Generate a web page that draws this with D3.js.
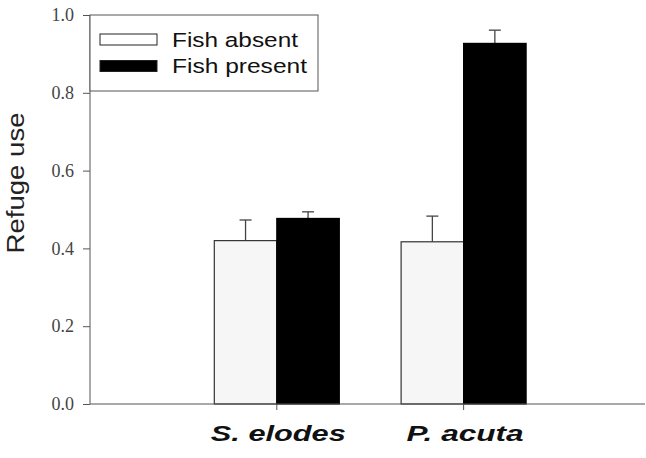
<!DOCTYPE html>
<html><head><meta charset="utf-8">
<script src="https://cdn.jsdelivr.net/npm/d3@7"></script>
<style>body{margin:0;background:#fff}</style>
</head><body>
<svg id="c" width="646" height="458"></svg>
<script>
const categories = ["S. elodes", "P. acuta"];
const seriesNames = ["Fish absent", "Fish present"];
const absentMean = [0.42, 0.417];
const absentSE = [0.053, 0.066];
const presentMean = [0.477, 0.927];
const presentSE = [0.017, 0.034];
const yTicks = [0.0, 0.2, 0.4, 0.6, 0.8, 1.0];

const svg = d3.select("#c");
const y = d3.scaleLinear().domain([0, 1]).range([404, 15]);
const x = d3.scaleLinear().domain([0, 2.88]).range([90, 628]);
const barW = 62.5;
const axisColor = "#555";
const sans = "Liberation Sans, Arial, sans-serif";

// bars
const data = [];
categories.forEach((c, i) => {
  data.push({cat: i + 1, side: -1, v: absentMean[i], se: absentSE[i], fill: "#f6f6f6"});
  data.push({cat: i + 1, side: 1, v: presentMean[i], se: presentSE[i], fill: "#000"});
});
const g = svg.append("g");
data.forEach(d => {
  const x0 = d.side < 0 ? x(d.cat) - barW : x(d.cat);
  const cx = x0 + barW / 2;
  g.append("line").attr("x1", cx).attr("x2", cx).attr("y1", y(d.v)).attr("y2", y(d.v + d.se))
    .attr("stroke", "#444").attr("stroke-width", 1.3);
  g.append("line").attr("x1", cx - 6).attr("x2", cx + 6).attr("y1", y(d.v + d.se)).attr("y2", y(d.v + d.se))
    .attr("stroke", "#444").attr("stroke-width", 1.3);
  g.append("rect").attr("x", x0).attr("y", y(d.v)).attr("width", barW).attr("height", y(0) - y(d.v))
    .attr("fill", d.fill).attr("stroke", d.side < 0 ? "#333" : "#000").attr("stroke-width", 1.2);
});

// y axis
const yAxis = d3.axisLeft(y).tickValues(yTicks).tickFormat(d3.format(".1f")).tickSize(7).tickPadding(9);
const ya = svg.append("g").attr("transform", "translate(90,0)").call(yAxis);
ya.select(".domain").attr("stroke", axisColor).attr("d", "M0,404V15");
ya.selectAll(".tick line").attr("stroke", axisColor);
ya.selectAll(".tick text").attr("font-family", "Liberation Serif, Times New Roman, serif")
  .attr("font-size", 18).attr("fill", "#444");

// x axis
svg.append("line").attr("x1", 90).attr("x2", 645).attr("y1", 404).attr("y2", 404)
  .attr("stroke", axisColor).attr("stroke-width", 1.2);
const catLen = [135, 117];
categories.forEach((c, i) => {
  svg.append("line").attr("x1", x(i + 1)).attr("x2", x(i + 1)).attr("y1", 404).attr("y2", 410)
    .attr("stroke", axisColor);
  svg.append("text").attr("x", x(i + 1) + 1.5).attr("y", 441).attr("text-anchor", "middle")
    .attr("font-family", sans).attr("font-weight", "bold")
    .attr("font-style", "italic").attr("font-size", 22).attr("fill", "#111")
    .attr("textLength", catLen[i]).attr("lengthAdjust", "spacingAndGlyphs").text(c);
});

// y label
svg.append("text").attr("transform", "translate(24,183) rotate(-90)").attr("text-anchor", "middle")
  .attr("font-family", sans).attr("font-size", 23).attr("fill", "#222")
  .attr("textLength", 141).attr("lengthAdjust", "spacingAndGlyphs")
  .text("Refuge use");

// legend
const lg = svg.append("g");
lg.append("rect").attr("x", 90).attr("y", 15).attr("width", 228).attr("height", 76)
  .attr("fill", "#fff").attr("stroke", axisColor).attr("stroke-width", 1);
const fills = ["#fff", "#000"];
const legLen = [126, 135];
seriesNames.forEach((s, i) => {
  const yy = 34 + i * 26.5;
  lg.append("rect").attr("x", 100).attr("y", yy).attr("width", 57).attr("height", 11)
    .attr("fill", fills[i]).attr("stroke", "#222").attr("stroke-width", 1);
  lg.append("text").attr("x", 172).attr("y", yy + 12.5).attr("font-family", sans)
    .attr("font-size", 20.5).attr("fill", "#111")
    .attr("textLength", legLen[i]).attr("lengthAdjust", "spacingAndGlyphs").text(s);
});
</script>
</body></html>
